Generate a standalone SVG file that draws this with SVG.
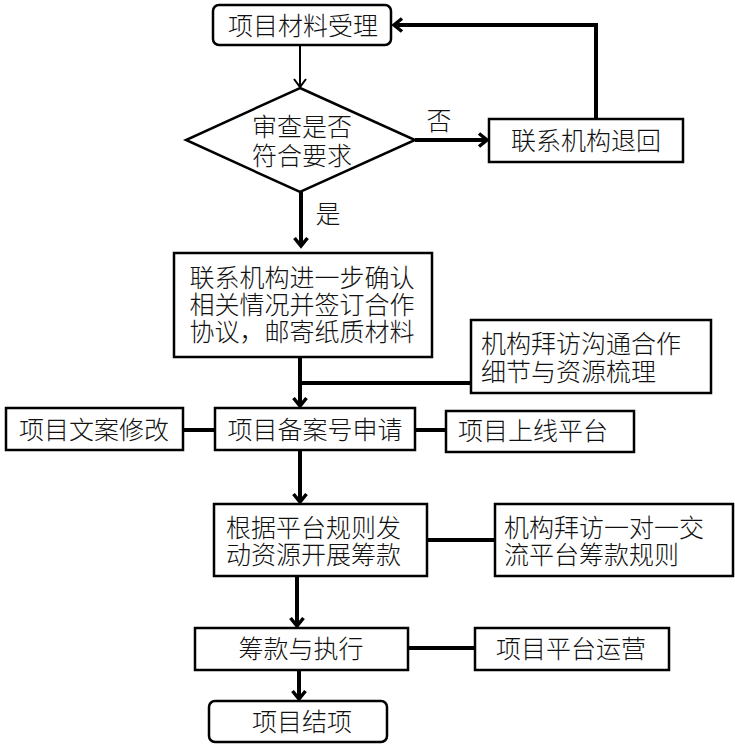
<svg xmlns="http://www.w3.org/2000/svg" width="735" height="750" viewBox="0 0 735 750">
<style>
  .box { fill: #fff; stroke: #000; stroke-width: 2.5; }
  .t { font-family: "Liberation Sans", "Noto Sans CJK SC", sans-serif; font-size: 25px; font-weight: 300; fill: #111; dominant-baseline: central; }
  .m { text-anchor: middle; }
  .c { fill: none; stroke: #000; stroke-width: 4; }
  .thin { fill: none; stroke: #000; stroke-width: 2; }
</style>
<defs>
  <marker id="ah" markerUnits="userSpaceOnUse" markerWidth="20" markerHeight="20" refX="10" refY="10" orient="auto" overflow="visible">
    <path d="M2,3.5 L10,10 L2,16.5" fill="none" stroke="#000" stroke-width="3.5"/>
  </marker>
  <marker id="ahs" markerUnits="userSpaceOnUse" markerWidth="20" markerHeight="20" refX="10" refY="10" orient="auto" overflow="visible">
    <path d="M2,4 L10,10 L2,16" fill="none" stroke="#000" stroke-width="2"/>
  </marker>
</defs>
<rect width="735" height="750" fill="#fff"/>

<g id="connectors">
  <line class="thin" x1="300" y1="45" x2="300" y2="87" marker-end="url(#ahs)"/>
  <line class="c" x1="415" y1="140" x2="487" y2="140" marker-end="url(#ah)"/>
  <polyline class="c" points="596,119 596,25 394,25" marker-end="url(#ah)"/>
  <line class="c" x1="301" y1="192" x2="301" y2="246" marker-end="url(#ah)"/>
  <line class="c" x1="300" y1="357" x2="300" y2="406" marker-end="url(#ah)"/>
  <line class="c" x1="300" y1="383" x2="471" y2="383"/>
  <line class="c" x1="183" y1="430" x2="215" y2="430"/>
  <line class="c" x1="415" y1="430" x2="446" y2="430"/>
  <line class="c" x1="300" y1="450" x2="300" y2="502" marker-end="url(#ah)"/>
  <line class="c" x1="427" y1="540" x2="495" y2="540"/>
  <line class="c" x1="297" y1="576" x2="297" y2="626" marker-end="url(#ah)"/>
  <line class="c" x1="408" y1="648" x2="475" y2="648"/>
  <line class="c" x1="299" y1="670" x2="299" y2="699" marker-end="url(#ah)"/>
  <text class="t m" x="439" y="121">否</text>
  <text class="t m" x="328" y="214">是</text>
</g>

<g id="n-start">
  <rect class="box" x="213" y="5" width="178" height="40" rx="6"/>
  <text class="t m" x="303" y="26">项目材料受理</text>
</g>
<g id="n-review">
  <polygon class="box" points="300,88 415,140 300,192 186,140"/>
  <text class="t m" x="302" y="127">审查是否</text>
  <text class="t m" x="302" y="156">符合要求</text>
</g>
<g id="n-return">
  <rect class="box" x="489" y="119" width="194" height="43"/>
  <text class="t m" x="586" y="141">联系机构退回</text>
</g>
<g id="n-confirm">
  <rect class="box" x="174" y="253" width="258" height="104"/>
  <text class="t m" x="302" y="278">联系机构进一步确认</text>
  <text class="t m" x="302" y="305">相关情况并签订合作</text>
  <text class="t m" x="302" y="332">协议，邮寄纸质材料</text>
</g>
<g id="n-visit1">
  <rect class="box" x="471" y="320" width="240" height="73"/>
  <text class="t" x="481" y="344">机构拜访沟通合作</text>
  <text class="t" x="481" y="372">细节与资源梳理</text>
</g>
<g id="n-copy">
  <rect class="box" x="6" y="408" width="177" height="42"/>
  <text class="t m" x="94" y="430">项目文案修改</text>
</g>
<g id="n-record">
  <rect class="box" x="215" y="408" width="200" height="42"/>
  <text class="t m" x="315" y="430">项目备案号申请</text>
</g>
<g id="n-online">
  <rect class="box" x="446" y="411" width="188" height="41"/>
  <text class="t" x="458" y="431">项目上线平台</text>
</g>
<g id="n-raise">
  <rect class="box" x="214" y="504" width="213" height="72"/>
  <text class="t" x="226" y="528">根据平台规则发</text>
  <text class="t" x="226" y="555">动资源开展筹款</text>
</g>
<g id="n-visit2">
  <rect class="box" x="495" y="504" width="238" height="72"/>
  <text class="t" x="504" y="528">机构拜访一对一交</text>
  <text class="t" x="504" y="555">流平台筹款规则</text>
</g>
<g id="n-exec">
  <rect class="box" x="195" y="628" width="213" height="42"/>
  <text class="t m" x="301" y="649">筹款与执行</text>
</g>
<g id="n-ops">
  <rect class="box" x="475" y="628" width="194" height="42"/>
  <text class="t m" x="571" y="649">项目平台运营</text>
</g>
<g id="n-end">
  <rect class="box" x="209" y="701" width="178" height="41" rx="6"/>
  <text class="t m" x="302" y="722">项目结项</text>
</g>
</svg>
